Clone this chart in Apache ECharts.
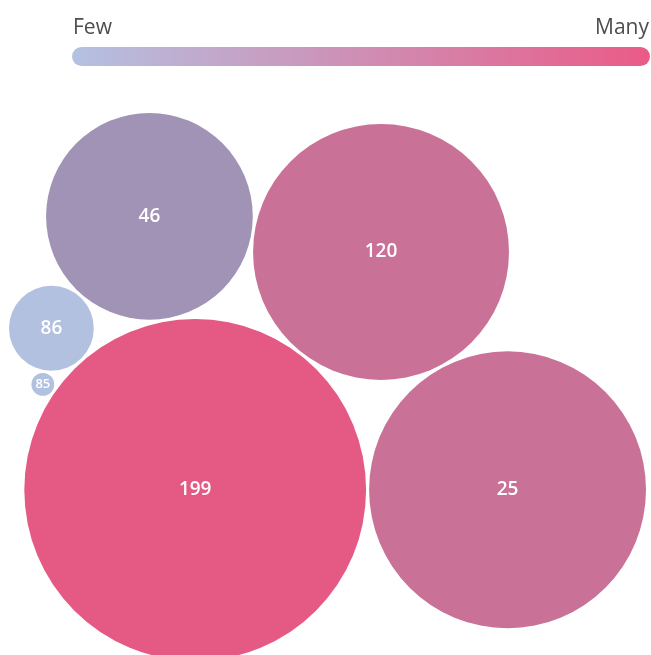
<!DOCTYPE html>
<html>
<head>
<meta charset="utf-8">
<title>Packed bubbles</title>
<script src="https://cdn.jsdelivr.net/npm/echarts@6/dist/echarts.min.js"></script>
<style>
  html, body { margin: 0; padding: 0; background: #ffffff; }
  #chart { width: 651px; height: 655px; }
</style>
</head>
<body>
<div id="chart"></div>
<script>
// Bubble labels and the quantity each bubble's area stands for
const labels = ['199', '25', '120', '46', '86', '85'];
const sizes = [2925, 1920, 1640, 1070, 180, 13];

// Colour scale ends
const scaleLow = 'Few';
const scaleHigh = 'Many';

const FONT = '"Open Sans", Lato, sans-serif';
const W = 651, H = 655;

// Points where a circle sits at distance d1 from p1 and d2 from p2
function tangentPoints(p1, d1, p2, d2) {
  const dx = p2.x - p1.x, dy = p2.y - p1.y;
  const D = Math.hypot(dx, dy);
  if (D === 0 || D > d1 + d2 || D < Math.abs(d1 - d2)) return [];
  const a = (D * D + d1 * d1 - d2 * d2) / (2 * D);
  const h = Math.sqrt(Math.max(0, d1 * d1 - a * a));
  const ux = dx / D, uy = dy / D;
  const bx = p1.x + a * ux, by = p1.y + a * uy;
  return [
    { x: bx - h * uy, y: by + h * ux },
    { x: bx + h * uy, y: by - h * ux }
  ];
}

// Greedy front packing: biggest first, second beside it, every other
// circle nested against two placed ones, pulled toward the upper left.
function packBubbles(radii, gap) {
  const order = radii.map((r, i) => i).sort((a, b) => radii[b] - radii[a]);
  const pos = new Array(radii.length);
  const placed = [];
  const r0 = radii[order[0]];
  const anchor = { x: -7 * r0, y: -0.5 * r0 };
  order.forEach((idx, n) => {
    const r = radii[idx];
    if (n === 0) {
      pos[idx] = { x: 0, y: 0 };
    } else if (n === 1) {
      pos[idx] = { x: r0 + r + gap, y: 0 };
    } else {
      let best = null, bestScore = Infinity;
      for (let i = 0; i < placed.length; i++) {
        for (let j = i + 1; j < placed.length; j++) {
          const a = placed[i], b = placed[j];
          const cands = tangentPoints(pos[a], radii[a] + r + gap, pos[b], radii[b] + r + gap);
          cands.forEach(c => {
            const fits = placed.every(k =>
              Math.hypot(c.x - pos[k].x, c.y - pos[k].y) >= radii[k] + r + gap - 1e-6);
            if (!fits) return;
            const s = Math.hypot(c.x - anchor.x, c.y - anchor.y);
            if (s < bestScore) { bestScore = s; best = c; }
          });
        }
      }
      pos[idx] = best;
    }
    placed.push(idx);
  });
  return pos;
}

const radii = sizes.map(v => Math.sqrt(v));
const layout = packBubbles(radii, 0.95);

let minX = Infinity, maxX = -Infinity, minY = Infinity;
layout.forEach((p, i) => {
  minX = Math.min(minX, p.x - radii[i]);
  maxX = Math.max(maxX, p.x + radii[i]);
  minY = Math.min(minY, p.y - radii[i]);
});

// Fit the pack to the width, leaving a thin margin each side
const padLeft = 9, padRight = 5, padTop = 113;
const scale = (W - padLeft - padRight) / (maxX - minX);
const xMin = minX - padLeft / scale;
const yMin = minY - padTop / scale;

const data = labels.map((name, i) => {
  const rPx = radii[i] * scale;
  return {
    name: name,
    value: [layout[i].x, layout[i].y, sizes[i]],
    label: { fontSize: Math.min(19, Math.round(rPx * 1.15)) }
  };
});

const chart = echarts.init(document.getElementById('chart'), null, { renderer: 'canvas' });

chart.setOption({
  backgroundColor: '#ffffff',
  animation: false,
  grid: { left: 0, right: 0, top: 0, bottom: 0 },
  xAxis: { type: 'value', show: false, min: xMin, max: xMin + W / scale },
  yAxis: { type: 'value', show: false, inverse: true, min: yMin, max: yMin + H / scale },
  visualMap: {
    type: 'piecewise',
    show: false,
    dimension: 2,
    seriesIndex: 0,
    pieces: [
      { min: 2500, color: '#e55a85' },
      { min: 1500, max: 2500, color: '#c97197' },
      { min: 500, max: 1500, color: '#a193b6' },
      { max: 500, color: '#b3c1e0' }
    ]
  },
  series: [{
    type: 'scatter',
    data: data,
    symbol: 'circle',
    symbolSize: val => 2 * Math.sqrt(val[2]) * scale,
    itemStyle: { opacity: 1 },
    label: {
      show: true,
      position: 'inside',
      formatter: p => p.name,
      color: '#ffffff',
      fontFamily: FONT,
      fontWeight: 600
    },
    emphasis: { disabled: true }
  }],
  graphic: [
    {
      type: 'text',
      left: 73,
      top: 18,
      style: { text: scaleLow, font: '21px ' + FONT, fill: '#4d4d4d' }
    },
    {
      type: 'text',
      right: 2,
      top: 18,
      style: { text: scaleHigh, font: '21px ' + FONT, fill: '#4d4d4d' }
    },
    {
      type: 'rect',
      shape: { x: 72, y: 47, width: 578, height: 19, r: 9.5 },
      style: {
        fill: new echarts.graphic.LinearGradient(0, 0, 1, 0, [
          { offset: 0, color: '#b4c1e1' },
          { offset: 1, color: '#ea5b87' }
        ])
      }
    }
  ]
});
</script>
</body>
</html>
